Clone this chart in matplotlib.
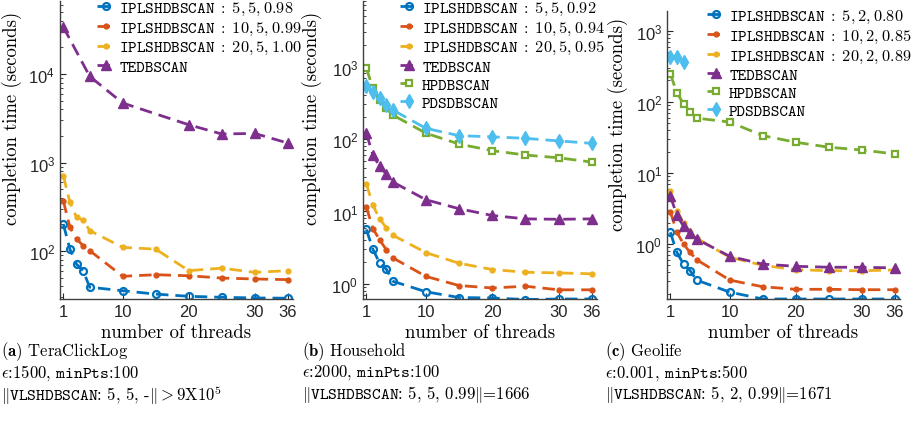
import numpy as np
import matplotlib
matplotlib.use("Agg")
import matplotlib.pyplot as plt

plt.rcParams['mathtext.fontset'] = 'cm'
plt.rcParams['font.family'] = ['Liberation Sans', 'DejaVu Sans']
plt.rcParams['axes.unicode_minus'] = False

# thread counts on the x axis (last one is labelled 36 in the figure)
threads = [1, 2, 3, 4, 5, 10, 15, 20, 25, 30, 35]
tick_pos = [1, 10, 20, 30, 35]
tick_labels = ['1', '10', '20', '30', '36']

# (a) TeraClickLog
a_ipl5 = [202, 105, 71, 60, 39, 35.6, 32.6, 30.8, 30.0, 29.5, 29.3]
a_ipl10 = [370, 185, 137, 115, 101, 51.8, 54, 52.5, 49.5, 48.3, 47.5]
a_ipl20 = [710, 355, 240, 224, 170, 110, 105, 60, 64, 57.4, 60]
a_te_threads = [1, 5, 10, 20, 25, 30, 35]
a_te = [34000, 9400, 4700, 2670, 2100, 2130, 1660]

# (b) Household
b_ipl5 = [5.65, 3.0, 1.95, 1.61, 1.09, 0.78, 0.65, 0.64, 0.61, 0.62, 0.62]
b_ipl10 = [11.5, 5.8, 4.07, 2.98, 2.29, 1.27, 0.95, 0.88, 0.93, 0.83, 0.83]
b_ipl20 = [24, 12.2, 7.9, 6.0, 4.7, 2.7, 1.93, 1.58, 1.45, 1.42, 1.38]
b_te = [120, 60, 42, 33, 25.5, 14.5, 10.9, 8.8, 7.9, 7.8, 7.9]
b_hp = [950, 500, 346, 266, 214, 120, 85, 69, 60, 55, 48]
b_pds = [546, 442, 369, 296, 251, 140, 111, 107, 102, 94, 87]

# (c) Geolife
c_ipl5 = [1.46, 0.76, 0.52, 0.42, 0.31, 0.21, 0.168, 0.168, 0.168, 0.168, 0.168]
c_ipl10 = [2.85, 1.46, 1.0, 0.76, 0.6, 0.31, 0.25, 0.23, 0.23, 0.227, 0.227]
c_ipl20 = [5.6, 2.94, 1.98, 1.49, 1.2, 0.65, 0.5, 0.435, 0.42, 0.42, 0.43]
c_te = [4.7, 2.56, 1.77, 1.43, 1.17, 0.67, 0.52, 0.485, 0.47, 0.47, 0.46]
c_hp = [248, 134, 94, 72, 59, 52, 33.5, 27, 23, 21, 18.5]
c_pds_threads = [1, 2, 3]
c_pds = [426, 434, 362]

blue, orange, yellow = '#0072BD', '#D95319', '#EDB120'
purple, green, cyan = '#7E2F8E', '#77AC30', '#4DBEEE'
dash = (0, (4.5, 2.5))

fig = plt.figure(figsize=(9.13, 4.31), dpi=100)

axes_pos = [
    [60 / 913, 131 / 431, 233 / 913, 298 / 431],
    [363 / 913, 131 / 431, 234 / 913, 298 / 431],
    [667 / 913, 131 / 431, 233 / 913, 288 / 431],
]
ylims = [(28.7, 66800), (0.62, 8000), (0.168, 1900)]
leg_xy = [(97 / 913, 0.998), (400 / 913, 0.998), (707 / 913, 0.979)]
label_x = [-0.163, -0.175, -0.167]


def ipl(ax, y5, y10, y20, params):
    ax.plot(threads, y5, ls=dash, lw=2, color=blue, marker='o', ms=5,
            mfc='none', mew=1.6, label=r'IPLSHDBSCAN$\;:\;%s$' % params[0])
    ax.plot(threads, y10, ls=dash, lw=2, color=orange, marker='.', ms=7,
            label=r'IPLSHDBSCAN$\;:\;%s$' % params[1])
    ax.plot(threads, y20, ls=dash, lw=2, color=yellow, marker='.', ms=7,
            label=r'IPLSHDBSCAN$\;:\;%s$' % params[2])


axs = [fig.add_axes(p) for p in axes_pos]

ipl(axs[0], a_ipl5, a_ipl10, a_ipl20, ['5, 5, 0.98', '10, 5, 0.99', '20, 5, 1.00'])
axs[0].plot(a_te_threads, a_te, ls=dash, lw=2, color=purple, marker='^',
            ms=7, label='TEDBSCAN')

ipl(axs[1], b_ipl5, b_ipl10, b_ipl20, ['5, 5, 0.92', '10, 5, 0.94', '20, 5, 0.95'])
axs[1].plot(threads, b_te, ls=dash, lw=2, color=purple, marker='^', ms=7,
            label='TEDBSCAN')
axs[1].plot(threads, b_hp, ls=dash, lw=2, color=green, marker='s', ms=5,
            mfc='white', mew=1.6, label='HPDBSCAN')
axs[1].plot(threads, b_pds, ls=dash, lw=2, color=cyan, marker='d', ms=7,
            label='PDSDBSCAN')

ipl(axs[2], c_ipl5, c_ipl10, c_ipl20, ['5, 2, 0.80', '10, 2, 0.85', '20, 2, 0.89'])
axs[2].plot(threads, c_te, ls=dash, lw=2, color=purple, marker='^', ms=7,
            label='TEDBSCAN')
axs[2].plot(threads, c_hp, ls=dash, lw=2, color=green, marker='s', ms=5,
            mfc='white', mew=1.6, label='HPDBSCAN')
axs[2].plot(c_pds_threads, c_pds, ls=dash, lw=2, color=cyan, marker='d',
            ms=7, label='PDSDBSCAN')

for i, ax in enumerate(axs):
    ax.set_yscale('log')
    ax.set_ylim(*ylims[i])
    ax.set_xlim(0.5, 35.8)
    ax.set_xticks(tick_pos)
    ax.set_xticklabels(tick_labels)
    ax.spines['top'].set_visible(False)
    ax.spines['right'].set_visible(False)
    for s in ('left', 'bottom'):
        ax.spines[s].set_color('#404040')
        ax.spines[s].set_linewidth(1.0)
    ax.tick_params(which='both', direction='in', labelsize=12, colors='#262626')
    ax.tick_params(which='major', length=4)
    ax.tick_params(which='minor', length=2.5)
    ax.set_xlabel('number of threads', fontfamily='cmr10', fontsize=13.5,
                  labelpad=3)
    ax.set_ylabel('completion time (seconds)', fontfamily='cmr10',
                  fontsize=13.5)
    ax.yaxis.set_label_coords(label_x[i], 0.61)
    ax.legend(loc='upper left', bbox_to_anchor=leg_xy[i],
              bbox_transform=fig.transFigure, frameon=False,
              prop={'family': 'cmtt10', 'size': 11.8},
              borderpad=0, borderaxespad=0, handlelength=1.1,
              handletextpad=0.25, labelspacing=0.16, numpoints=1)

captions = [
    [r'$\mathbf{(a)}$ TeraClickLog',
     r'$\epsilon$:1500, $\mathtt{minPts}$:100',
     r'$\Vert\mathtt{VLSHDBSCAN}$: 5, 5, -$\Vert > 9$X10$^5$'],
    [r'$\mathbf{(b)}$ Household',
     r'$\epsilon$:2000, $\mathtt{minPts}$:100',
     r'$\Vert\mathtt{VLSHDBSCAN}$: 5, 5, 0.99$\Vert$=1666'],
    [r'$\mathbf{(c)}$ Geolife',
     r'$\epsilon$:0.001, $\mathtt{minPts}$:500',
     r'$\Vert\mathtt{VLSHDBSCAN}$: 5, 2, 0.99$\Vert$=1671'],
]
cap_x = [1 / 913, 302 / 913, 605 / 913]
cap_y = [352, 373, 395]
for cx, rows in zip(cap_x, captions):
    for cy, txt in zip(cap_y, rows):
        fig.text(cx, 1 - cy / 431, txt, fontfamily='cmr10', fontsize=12,
                 va='center', ha='left')

fig.savefig('out.png', dpi=100)
